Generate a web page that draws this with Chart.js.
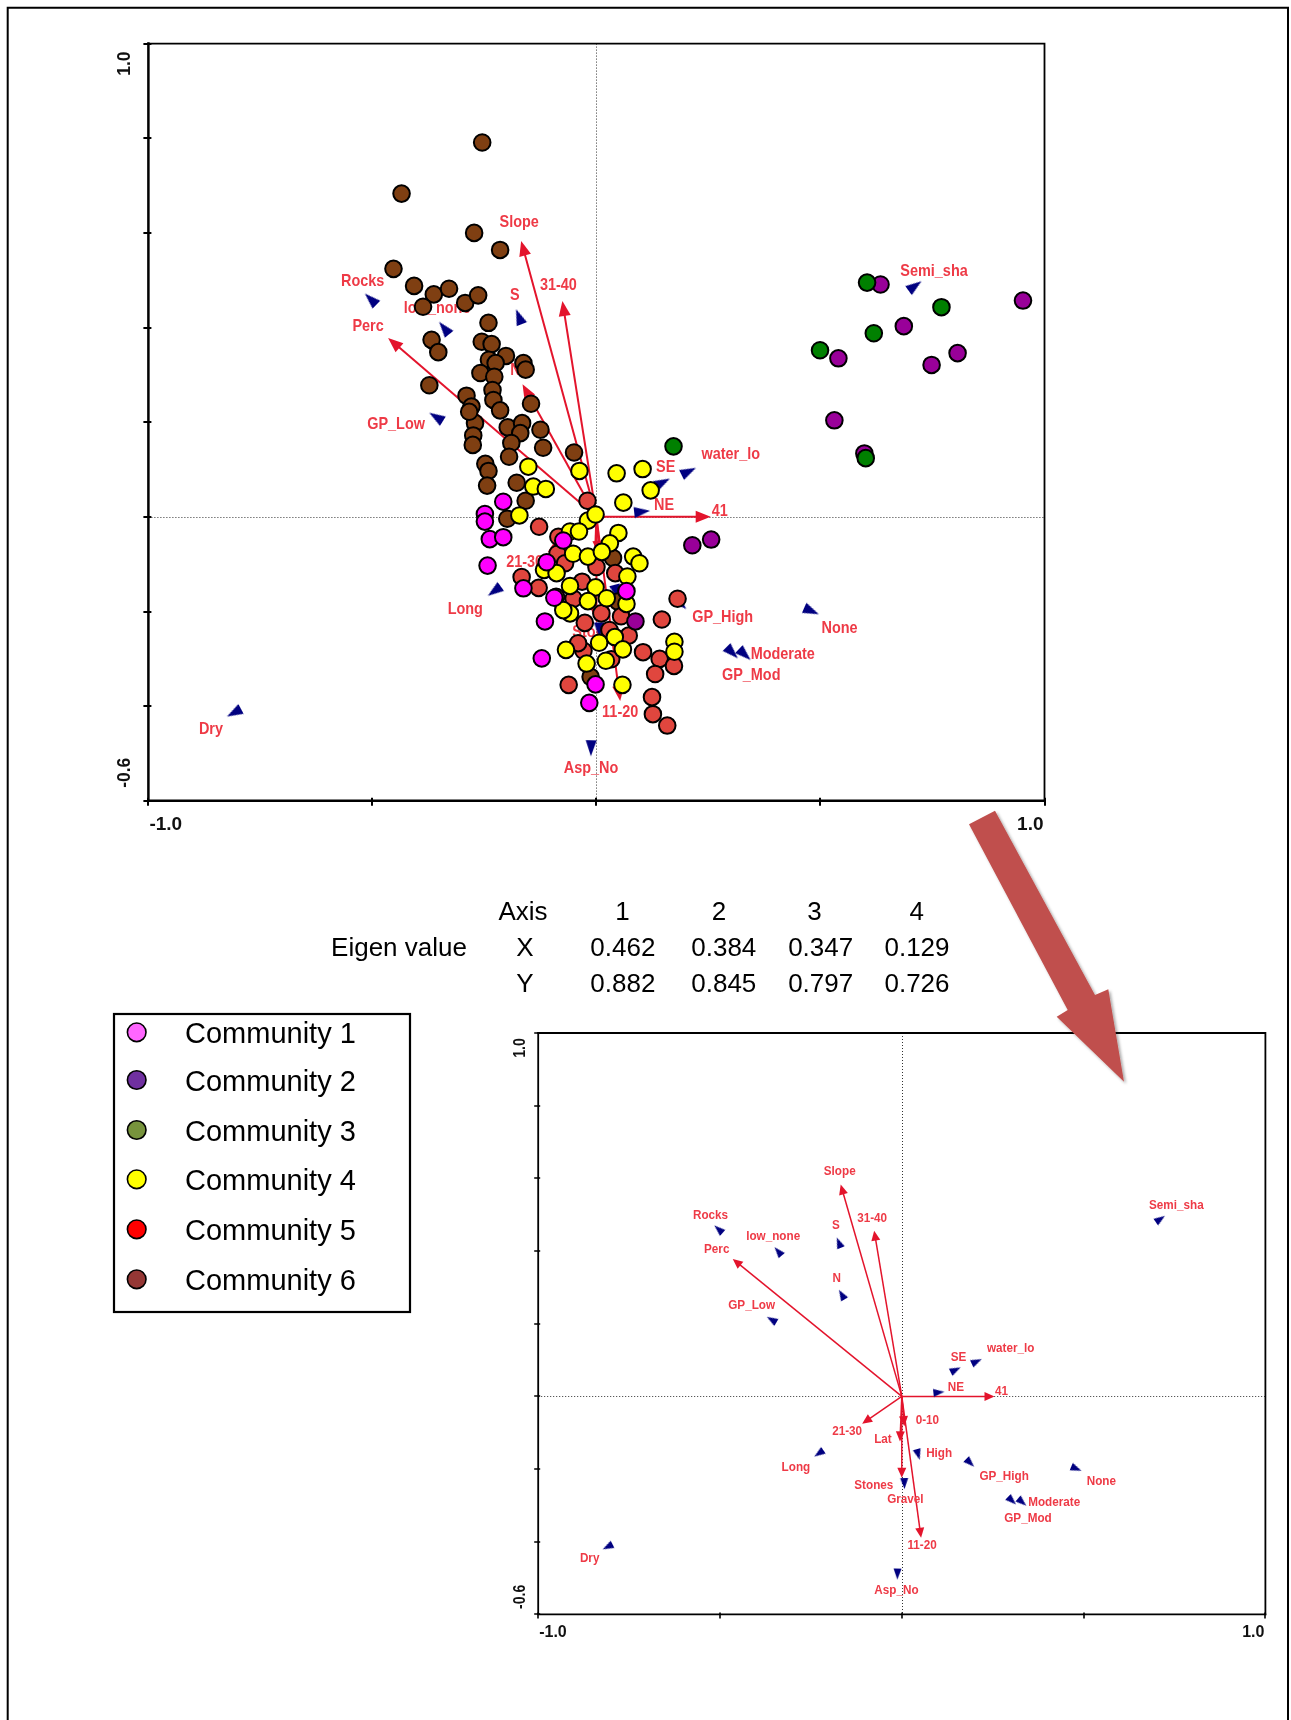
<!DOCTYPE html>
<html><head><meta charset="utf-8">
<script src="https://cdn.jsdelivr.net/npm/chart.js@4.4.1/dist/chart.umd.min.js"></script>
<style>
html,body{margin:0;padding:0;background:#fff;width:1291px;height:1720px;overflow:hidden;}
#c1{position:absolute;left:0;top:0;width:1291px;height:870px;}
#c2{position:absolute;left:0;top:870px;width:1291px;height:850px;}
#ov{position:absolute;left:0;top:0;pointer-events:none;}
</style></head><body>
<canvas id="c1" width="1291" height="870"></canvas>
<canvas id="c2" width="1291" height="850"></canvas>
<svg id="ov" width="1291" height="1720" xmlns="http://www.w3.org/2000/svg">
<defs><filter id="sh" x="-30%" y="-30%" width="160%" height="160%"><feDropShadow dx="2" dy="2" stdDeviation="1.5" flood-color="#000" flood-opacity="0.35"/></filter></defs>
<path d="M7.7 1725 V7.7 H1288 V1725" fill="none" stroke="#000" stroke-width="2"/>
<g id="tbl" font-family="Liberation Sans, Arial, sans-serif" font-size="26" text-anchor="middle" fill="#000"></g>
<g id="leg" font-family="Liberation Sans, Arial, sans-serif" font-size="29" fill="#000"></g>
<polygon points="969,824.3 995,810.7 1095,995 1108.3,989.3 1124,1081.7 1056.7,1016.7 1067.7,1010" fill="#c0504d" filter="url(#sh)"/>
</svg>
<script>
// ---------------- DATA ----------------
const axisNames = ['1','2','3','4'];
const eigenX = ['0.462','0.384','0.347','0.129'];
const eigenY = ['0.882','0.845','0.797','0.726'];
const communityNames = ['Community 1','Community 2','Community 3','Community 4','Community 5','Community 6'];

const comm1X = [-0.208,-0.249,-0.249,-0.238,-0.208,-0.243,-0.074,-0.111,-0.163,-0.094,0.067,-0.115,-0.122,-0.002,-0.016];
const comm1Y = [0.032,0.006,-0.010,-0.047,-0.043,-0.103,-0.050,-0.096,-0.151,-0.171,-0.157,-0.221,-0.299,-0.354,-0.393];
const comm2X = [0.634,0.952,0.686,0.540,0.806,0.748,0.531,0.598,0.214,0.256,0.087];
const comm2Y = [0.491,0.457,0.403,0.335,0.346,0.321,0.204,0.134,-0.060,-0.048,-0.221];
const comm3X = [0.604,0.770,0.619,0.499,0.601,0.172];
const comm3Y = [0.495,0.443,0.388,0.352,0.124,0.149];
const comm4X = [-0.152,-0.038,-0.141,-0.113,0.045,0.103,0.121,0.060,-0.172,-0.019,-0.002,-0.059,-0.039,0.049,0.030,-0.052,-0.019,0.012,0.082,0.096,-0.117,-0.089,0.069,-0.002,-0.059,-0.019,0.023,0.067,-0.059,0.006,0.041,0.059,-0.068,-0.022,0.021,0.058,0.174,0.174,-0.074];
const comm4Y = [0.106,0.097,0.064,0.059,0.092,0.101,0.056,0.030,0.003,-0.008,0.005,-0.031,-0.031,-0.034,-0.056,-0.078,-0.084,-0.074,-0.084,-0.098,-0.112,-0.119,-0.126,-0.149,-0.146,-0.178,-0.172,-0.184,-0.204,-0.266,-0.254,-0.280,-0.281,-0.310,-0.304,-0.355,-0.264,-0.285,-0.197];
const comm5X = [-0.020,-0.128,-0.085,-0.087,0.000,-0.167,-0.129,-0.032,0.042,-0.051,0.181,-0.026,0.011,0.055,0.029,0.072,0.146,-0.029,-0.041,0.033,0.104,0.141,0.173,0.131,-0.062,0.124,0.126,0.158,-0.090,-0.070];
const comm5Y = [0.034,-0.021,-0.042,-0.078,-0.106,-0.127,-0.150,-0.137,-0.119,-0.173,-0.173,-0.224,-0.204,-0.210,-0.239,-0.251,-0.217,-0.283,-0.267,-0.301,-0.286,-0.300,-0.315,-0.332,-0.355,-0.381,-0.417,-0.441,-0.169,-0.098];
const comm6X = [-0.255,-0.435,-0.273,-0.215,-0.453,-0.407,-0.363,-0.329,-0.387,-0.293,-0.264,-0.241,-0.368,-0.353,-0.256,-0.234,-0.202,-0.240,-0.225,-0.259,-0.228,-0.163,-0.158,-0.373,-0.232,-0.230,-0.146,-0.290,-0.279,-0.215,-0.271,-0.275,-0.276,-0.198,-0.166,-0.170,-0.125,-0.190,-0.195,-0.119,-0.050,-0.248,-0.241,-0.244,-0.178,-0.158,-0.199,0.037,0.048,-0.013,-0.284];
const comm6Y = [0.791,0.683,0.600,0.564,0.524,0.488,0.470,0.482,0.444,0.452,0.468,0.410,0.374,0.348,0.370,0.365,0.340,0.332,0.325,0.304,0.296,0.325,0.311,0.278,0.268,0.247,0.239,0.256,0.233,0.225,0.198,0.172,0.152,0.189,0.198,0.177,0.184,0.156,0.127,0.146,0.136,0.112,0.097,0.066,0.072,0.034,-0.004,-0.087,-0.179,-0.338,0.222];

const arrowNames = ['Slope','31-40','Perc','41','21-30','0-10','Lat','Stones','11-20'];
const arrowX = [-0.168,-0.076,-0.465,0.255,-0.109,0.007,-0.005,0.000,0.053];
const arrowY = [0.583,0.456,0.378,0.000,-0.075,-0.082,-0.124,-0.224,-0.389];

const centroidNames = ['Rocks','low_none','S','N','GP_Low','Semi_sha','SE','water_lo','NE','High','GP_High','None','Long','Moderate','GP_Mod','Gravel','Dry','Asp_No'];
const centroidX = [-0.504,-0.340,-0.173,-0.165,-0.358,0.711,0.148,0.206,0.102,0.045,0.188,0.480,-0.228,0.331,0.303,0.007,-0.809,-0.012];
const centroidY = [0.460,0.399,0.423,0.280,0.211,0.488,0.073,0.096,0.011,-0.160,-0.183,-0.199,-0.157,-0.291,-0.287,-0.240,-0.414,-0.489];

const xTickValues = [-1,-0.5,0,0.5,1];
const yTickValues = [-0.6,-0.4,-0.2,0,0.2,0.4,0.6,0.8,1.0];
const xTickLabels = ['-1.0','1.0'];
const yTickLabels = ['1.0','-0.6'];

// ---------------- STYLE ----------------
const chartColors = ['#ff00ff','#990099','#008000','#ffff00','#e0463e','#7f3f12'];
const legendColors = ['#ff66ff','#7030a0','#77933c','#ffff00','#ff0000','#953735'];
const drawOrder = [3,2,1,4,5,6]; // lower = on top

const topOffsets = {'Slope':[-2,-19],'31-40':[-4,-16],'Perc':[-20,-12],'41':[9,-6],'N':[-7,-14],'11-20':[0,11],'21-30':[-23,10],'Stones':[0,9],
 'Rocks':[-8,-18],'low_none':[-7,-20],'S':[-4,-21],'GP_Low':[-40,7],'Semi_sha':[19,-15],'SE':[3,-15],'water_lo':[42,-17],'NE':[22,-6],'GP_High':[42,14],'None':[28,17],'Long':[-29,18],'Moderate':[38,0],'GP_Mod':[19,23],'Dry':[-23,17],'Asp_No':[0,20]};
const bottomOffsets = {'Slope':[-1,-13],'31-40':[-2,-12],'Perc':[-16,-10],'41':[7,-5],'21-30':[-15,8],'0-10':[23,-6],'Lat':[-17,-2],'Stones':[-28,8],'11-20':[1,8],
 'Rocks':[-8,-14],'low_none':[-5,-15],'S':[-3,-17],'N':[-5,-16],'GP_Low':[-20,-14],'Semi_sha':[16,-14],'SE':[3,-12],'water_lo':[34,-13],'NE':[17,-5],'High':[21,-1],'GP_High':[34,14],'None':[25,13],'Long':[-23,14],'Moderate':[32,0],'GP_Mod':[16,18],'Gravel':[1,16],'Dry':[-18,12],'Asp_No':[-1,16]};

function pos(n){
  let i = arrowNames.indexOf(n);
  if (i >= 0) return [arrowX[i], arrowY[i]];
  i = centroidNames.indexOf(n);
  return [centroidX[i], centroidY[i]];
}

function makeTri(len, base, color){
  const s = Math.ceil(Math.max(len, base)) + 2;
  const c = document.createElement('canvas');
  c.width = s; c.height = s;
  const g = c.getContext('2d');
  g.fillStyle = color;
  g.beginPath();
  g.moveTo(s/2, (s-len)/2);
  g.lineTo(s/2 + base/2, (s+len)/2);
  g.lineTo(s/2 - base/2, (s+len)/2);
  g.closePath(); g.fill();
  return c;
}

function rotFn(c){
  const p = c.raw; if (!p) return 0;
  const s = c.chart.scales;
  const dx = s.x.getPixelForValue(p.x) - s.x.getPixelForValue(0);
  const dy = s.y.getPixelForValue(0) - s.y.getPixelForValue(p.y);
  return Math.atan2(dx, dy) * 180 / Math.PI;
}

function drawText(ctx, t, x, y, sx, rot){
  ctx.save(); ctx.translate(x, y); if (rot) ctx.rotate(rot); ctx.scale(sx, 1); ctx.fillText(t, 0, 0); ctx.restore();
}

function makeBiplot(cfg){
  return {
    id: 'biplot',
    beforeDatasetsDraw(chart){
      const {ctx, chartArea: a, scales: {x, y}} = chart;
      const x0 = x.getPixelForValue(0), y0 = y.getPixelForValue(0);
      ctx.save();
      ctx.strokeStyle = '#333'; ctx.lineWidth = 1; ctx.setLineDash([1,2]);
      ctx.beginPath();
      ctx.moveTo(Math.round(x0)+0.5, a.top); ctx.lineTo(Math.round(x0)+0.5, a.bottom);
      ctx.moveTo(a.left, Math.round(y0)+0.5); ctx.lineTo(a.right, Math.round(y0)+0.5);
      ctx.stroke(); ctx.setLineDash([]);
      ctx.strokeStyle = cfg.arrowColor; ctx.fillStyle = cfg.arrowColor; ctx.lineWidth = cfg.arrowW;
      cfg.arrows.forEach(n => {
        const v = pos(n);
        const px = x.getPixelForValue(v[0]), py = y.getPixelForValue(v[1]);
        const dx = px - x0, dy = py - y0, L = Math.hypot(dx, dy);
        const ux = dx/L, uy = dy/L;
        const hl = Math.min(cfg.headL, L*0.7), hw = cfg.headW/2;
        const bx = px - ux*hl, by = py - uy*hl;
        ctx.beginPath(); ctx.moveTo(x0, y0); ctx.lineTo(bx + ux, by + uy); ctx.stroke();
        ctx.beginPath(); ctx.moveTo(px, py);
        ctx.lineTo(bx - uy*hw, by + ux*hw); ctx.lineTo(bx + uy*hw, by - ux*hw);
        ctx.closePath(); ctx.fill();
      });
      ctx.fillStyle = cfg.labelColor; ctx.font = cfg.labelFont;
      ctx.textAlign = 'center'; ctx.textBaseline = 'middle';
      Object.keys(cfg.offsets).forEach(n => {
        const v = pos(n), o = cfg.offsets[n];
        drawText(ctx, n, x.getPixelForValue(v[0]) + o[0], y.getPixelForValue(v[1]) + o[1], cfg.labelScale, 0);
      });
      ctx.restore();
    },
    afterDraw(chart){
      const {ctx, chartArea: a, scales: {x, y}} = chart;
      ctx.save();
      ctx.strokeStyle = '#000'; ctx.lineCap = 'square';
      ctx.lineWidth = cfg.frameW;
      ctx.beginPath(); ctx.moveTo(a.left, a.top); ctx.lineTo(a.right, a.top); ctx.lineTo(a.right, a.bottom); ctx.stroke();
      ctx.lineWidth = cfg.axisW;
      ctx.beginPath(); ctx.moveTo(a.left, a.top); ctx.lineTo(a.left, a.bottom); ctx.lineTo(a.right, a.bottom); ctx.stroke();
      ctx.lineWidth = cfg.tickW; ctx.lineCap = 'butt';
      ctx.beginPath();
      yTickValues.forEach(v => { const p = Math.round(y.getPixelForValue(v)); ctx.moveTo(a.left - cfg.tickOut, p); ctx.lineTo(a.left + cfg.tickIn, p); });
      xTickValues.forEach(v => { const p = Math.round(x.getPixelForValue(v)); ctx.moveTo(p, a.bottom - cfg.tickIn); ctx.lineTo(p, a.bottom + cfg.tickOut); });
      ctx.stroke();
      ctx.fillStyle = '#111'; ctx.font = cfg.axisFont; ctx.textBaseline = 'middle';
      ctx.textAlign = 'left';
      ctx.fillText(xTickLabels[0], x.getPixelForValue(x.min) + cfg.xLabPad, a.bottom + cfg.xLabDy);
      ctx.textAlign = 'right';
      ctx.fillText(xTickLabels[1], x.getPixelForValue(x.max) - cfg.xLabPad, a.bottom + cfg.xLabDy);
      ctx.textAlign = 'center';
      drawText(ctx, yTickLabels[0], a.left + cfg.yLabDx, y.getPixelForValue(y.max) + cfg.yLabTop, cfg.yLabScale, -Math.PI/2);
      drawText(ctx, yTickLabels[1], a.left + cfg.yLabDx, y.getPixelForValue(y.min) - cfg.yLabBot, cfg.yLabScale, -Math.PI/2);
      ctx.restore();
    }
  };
}

const baseOpts = (pad) => ({
  responsive: false, animation: false, devicePixelRatio: 1, events: [],
  layout: {padding: pad},
  scales: {
    x: {type: 'linear', min: -1, max: 1, display: false},
    y: {type: 'linear', min: -0.6, max: 1.0, display: false}
  },
  plugins: {legend: {display: false}, tooltip: {enabled: false}}
});

// ---------- top chart ----------
const commX = [comm1X, comm2X, comm3X, comm4X, comm5X, comm6X];
const commY = [comm1Y, comm2Y, comm3Y, comm4Y, comm5Y, comm6Y];
const topSets = communityNames.map((nm, k) => ({
  label: nm,
  data: commX[k].map((v, i) => ({x: v, y: commY[k][i]})),
  pointRadius: 8.3, pointBorderWidth: 2, pointBorderColor: '#000',
  pointBackgroundColor: chartColors[k], showLine: false, order: drawOrder[k]
}));
const topTriNames = centroidNames.filter(n => n !== 'N');
topSets.push({
  label: 'centroids', data: topTriNames.map(n => { const p = pos(n); return {x: p[0], y: p[1]}; }),
  pointStyle: makeTri(16, 11, '#000080'), pointRotation: rotFn, pointRadius: 8, showLine: false, order: 20
});
new Chart(document.getElementById('c1'), {
  type: 'scatter',
  data: {datasets: topSets},
  options: baseOpts({left: 148.4, top: 43.6, right: 246.5, bottom: 69.2}),
  plugins: [makeBiplot({
    arrows: arrowNames.concat(['N']), offsets: topOffsets,
    arrowColor: '#e3142c', arrowW: 2, headL: 15, headW: 12,
    labelColor: '#ee3a46', labelFont: 'bold 17px "Liberation Sans", Arial, sans-serif', labelScale: 0.85,
    frameW: 1.8, axisW: 2.5, tickW: 2, tickOut: 5, tickIn: 3,
    axisFont: 'bold 19px "Liberation Sans", Arial, sans-serif', xLabPad: 1, xLabDy: 24,
    yLabDx: -24, yLabTop: 20, yLabBot: 28, yLabScale: 0.92
  })]
});

// ---------- bottom chart ----------
new Chart(document.getElementById('c2'), {
  type: 'scatter',
  data: {datasets: [{
    label: 'centroids', data: centroidNames.map(n => { const p = pos(n); return {x: p[0], y: p[1]}; }),
    pointStyle: makeTri(11, 8, '#000080'), pointRotation: rotFn, pointRadius: 6, showLine: false
  }]},
  options: baseOpts({left: 538.2, top: 163, right: 25.6, bottom: 105.6}),
  plugins: [makeBiplot({
    arrows: arrowNames, offsets: bottomOffsets,
    arrowColor: '#e3142c', arrowW: 1.5, headL: 10, headW: 9,
    labelColor: '#ee3a46', labelFont: 'bold 13px "Liberation Sans", Arial, sans-serif', labelScale: 0.9,
    frameW: 1.8, axisW: 1.8, tickW: 1.6, tickOut: 4, tickIn: 2,
    axisFont: 'bold 16px "Liberation Sans", Arial, sans-serif', xLabPad: 1, xLabDy: 18.5,
    yLabDx: -18, yLabTop: 15, yLabBot: 17.5, yLabScale: 0.88
  })]
});

// ---------- eigen table & legend (SVG text) ----------
const NS = 'http://www.w3.org/2000/svg';
function svgText(parent, t, x, y, anchor){
  const e = document.createElementNS(NS, 'text');
  e.setAttribute('x', x); e.setAttribute('y', y);
  if (anchor) e.setAttribute('text-anchor', anchor);
  e.textContent = t; parent.appendChild(e); return e;
}
const tbl = document.getElementById('tbl');
const headCols = [622.4, 718.9, 814.5, 916.7];
const valCols = [622.9, 723.8, 820.7, 917.0];
svgText(tbl, 'Axis', 523, 919.5);
axisNames.forEach((t, i) => svgText(tbl, t, headCols[i], 919.5));
svgText(tbl, 'Eigen value', 399, 955.6);
svgText(tbl, 'X', 525, 955.6);
eigenX.forEach((t, i) => svgText(tbl, t, valCols[i], 955.6));
svgText(tbl, 'Y', 525, 992);
eigenY.forEach((t, i) => svgText(tbl, t, valCols[i], 992));

const leg = document.getElementById('leg');
const box = document.createElementNS(NS, 'rect');
box.setAttribute('x', 114); box.setAttribute('y', 1014); box.setAttribute('width', 296); box.setAttribute('height', 298);
box.setAttribute('fill', 'none'); box.setAttribute('stroke', '#000'); box.setAttribute('stroke-width', 2.2);
leg.appendChild(box);
const legY = [1032.3, 1080, 1130, 1179.3, 1229.3, 1279.3];
communityNames.forEach((nm, i) => {
  const c = document.createElementNS(NS, 'circle');
  c.setAttribute('cx', 136.7); c.setAttribute('cy', legY[i]); c.setAttribute('r', 9.3);
  c.setAttribute('fill', legendColors[i]); c.setAttribute('stroke', '#000'); c.setAttribute('stroke-width', 1.6);
  leg.appendChild(c);
  svgText(leg, nm, 185, legY[i] + 10.5, 'start');
});
</script>
</body></html>
